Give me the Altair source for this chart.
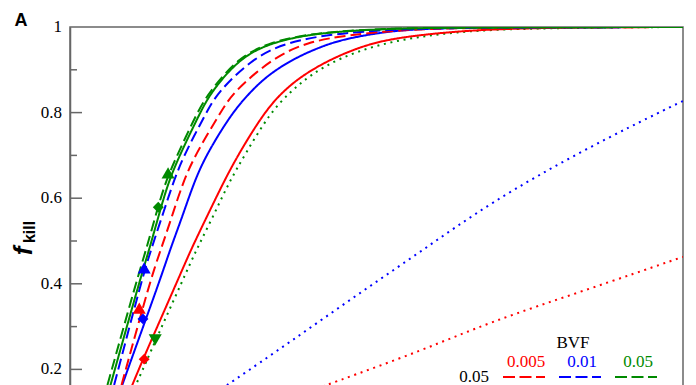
import altair as alt
import pandas as pd

# ---- curve data (x in arbitrary dose units, y = f_kill) ----
curves = {
    "gdash": {
        "x": [0.54, 0.62, 1.09, 1.24, 1.39, 1.55, 1.75, 2.07, 2.27, 2.74, 3.26, 4.03, 5.38, 7.01, 10.0],
        "y": [0.128, 0.168, 0.409, 0.479, 0.556, 0.636, 0.701, 0.799, 0.848, 0.928, 0.965, 0.988, 0.998, 0.9993, 1.0],
    },
    "gsolid": {
        "x": [0.59, 0.67, 1.14, 1.29, 1.44, 1.60, 1.79, 2.12, 2.30, 2.77, 3.30, 4.08, 5.46, 7.18, 10.0],
        "y": [0.128, 0.168, 0.409, 0.479, 0.556, 0.636, 0.701, 0.799, 0.848, 0.928, 0.965, 0.988, 0.998, 0.9993, 1.0],
    },
    "bdash": {
        "x": [0.65, 0.73, 1.17, 1.32, 1.50, 1.68, 1.86, 2.22, 2.41, 2.99, 3.54, 4.36, 5.71, 7.99, 10.0],
        "y": [0.128, 0.168, 0.409, 0.479, 0.556, 0.636, 0.701, 0.799, 0.848, 0.928, 0.965, 0.986, 0.998, 0.9995, 1.0],
    },
    "rdash": {
        "x": [0.77, 0.85, 1.31, 1.48, 1.66, 1.84, 2.04, 2.45, 2.66, 3.31, 3.87, 4.52, 5.38, 6.36, 8.65, 10.0],
        "y": [0.128, 0.168, 0.409, 0.479, 0.556, 0.636, 0.701, 0.799, 0.848, 0.928, 0.965, 0.981, 0.993, 0.998, 0.9995, 1.0],
    },
    "bsolid": {
        "x": [0.77, 0.86, 1.47, 1.63, 1.83, 2.02, 2.22, 2.64, 2.94, 3.23, 3.67, 4.16, 4.54, 5.30, 6.20, 7.50, 10.0],
        "y": [0.128, 0.168, 0.409, 0.479, 0.556, 0.636, 0.701, 0.799, 0.848, 0.888, 0.928, 0.958, 0.974, 0.993, 0.998, 0.9993, 1.0],
    },
    "rsolid": {
        "x": [0.91, 1.03, 1.19, 1.76, 1.97, 2.23, 2.50, 2.74, 3.16, 3.46, 3.80, 4.29, 4.94, 5.66, 6.57, 7.67, 8.97, 10.0],
        "y": [0.128, 0.168, 0.224, 0.409, 0.479, 0.556, 0.636, 0.701, 0.799, 0.848, 0.888, 0.928, 0.965, 0.981, 0.993, 0.998, 0.9995, 1.0],
    },
    "gdot": {
        "x": [0.96, 1.09, 1.40, 1.84, 2.06, 2.33, 2.59, 2.85, 3.26, 3.59, 3.92, 4.40, 5.01, 5.66, 6.31, 7.01, 8.65, 10.0],
        "y": [0.128, 0.168, 0.269, 0.409, 0.479, 0.556, 0.636, 0.701, 0.799, 0.848, 0.888, 0.928, 0.958, 0.977, 0.988, 0.995, 0.999, 1.0],
    },
    "bdot": {
        "x": [2.20, 2.61, 3.59, 4.68, 5.76, 6.85, 8.37, 9.92, 10.0],
        "y": [0.128, 0.168, 0.264, 0.374, 0.479, 0.589, 0.713, 0.822, 0.827],
    },
    "rdot": {
        "x": [3.51, 4.27, 5.76, 6.85, 8.43, 10.0],
        "y": [0.128, 0.168, 0.245, 0.311, 0.386, 0.463],
    },
}

RED, BLUE, GREEN = "#ff0000", "#0000ff", "#008a00"
SOLID, DASH, DOT = [1, 0], [11, 5], [2, 4.7]
styles = {
    "rdot": (RED, DOT), "bdot": (BLUE, DOT), "gdot": (GREEN, DOT),
    "rsolid": (RED, SOLID), "bsolid": (BLUE, SOLID), "gsolid": (GREEN, SOLID),
    "rdash": (RED, DASH), "bdash": (BLUE, DASH), "gdash": (GREEN, DASH),
}

# ---- markers ----
marker_x = [1.60, 1.44, 1.21, 1.13, 1.19, 1.39, 1.21]
marker_y = [0.659, 0.579, 0.437, 0.343, 0.318, 0.269, 0.224]
marker_shape = ["triangle-up", "diamond", "triangle-up", "triangle-up", "diamond", "triangle-down", "diamond"]
marker_color = [GREEN, GREEN, BLUE, RED, BLUE, GREEN, RED]

# ---- axis ticks ----
major_ticks = [0.2, 0.4, 0.6, 0.8]
minor_ticks = [0.1, 0.3, 0.5, 0.7, 0.9]
tick_values = [0.2, 0.4, 0.6, 0.8, 1.0]
tick_texts = ["0.2", "0.4", "0.6", "0.8", "1"]

# ---- legend ----
bvf_labels = ["0.005", "0.01", "0.05"]
bvf_colors = [RED, BLUE, GREEN]
row_label = "0.05"

W, H = 613, 428
xscale = alt.Scale(domain=[0, 10], nice=False)
yscale = alt.Scale(domain=[0, 1], nice=False)
SERIF = "Liberation Serif"
SANS = "Liberation Sans"

def X():
    return alt.X("x:Q", scale=xscale, axis=None)

def Y():
    return alt.Y("y:Q", scale=yscale, title=None,
                 axis=alt.Axis(values=tick_values, labels=False, ticks=False, grid=False,
                               domainColor="#666666", domainWidth=1.5))

layers = []
for name in ["rdot", "bdot", "gdot", "rsolid", "bsolid", "rdash", "bdash", "gsolid", "gdash"]:
    c = curves[name]
    col, dash = styles[name]
    df = pd.DataFrame({"x": c["x"], "y": c["y"]})
    layers.append(
        alt.Chart(df).mark_line(color=col, strokeDash=dash, strokeWidth=2, clip=True, interpolate="basis")
        .encode(x=X(), y=Y())
    )

for mx, my, ms, mc in zip(marker_x, marker_y, marker_shape, marker_color):
    size = 170 if ms.startswith("triangle") else 120
    layers.append(
        alt.Chart(pd.DataFrame({"x": [mx], "y": [my]}))
        .mark_point(shape=ms, color=mc, filled=True, opacity=1, size=size)
        .encode(x=X(), y=Y())
    )

# inner ticks
layers.append(
    alt.Chart(pd.DataFrame({"y": major_ticks})).mark_rule(color="#666666", strokeWidth=1.5)
    .encode(y=Y(), x=alt.value(0), x2=alt.value(12))
)
layers.append(
    alt.Chart(pd.DataFrame({"y": minor_ticks})).mark_rule(color="#666666", strokeWidth=1.5)
    .encode(y=Y(), x=alt.value(0), x2=alt.value(7))
)
# tick labels
layers.append(
    alt.Chart(pd.DataFrame({"y": tick_values, "lab": tick_texts}))
    .mark_text(font=SERIF, fontSize=17, align="right", baseline="middle", color="black")
    .encode(y=Y(), x=alt.value(-8), text="lab:N")
)

def txt(t, x, y, **kw):
    return alt.Chart(pd.DataFrame({"t": [t]})).mark_text(**kw).encode(
        x=alt.value(x), y=alt.value(y), text="t:N")

# panel label and y title
layers.append(txt("A", -49, -6, font=SANS, fontSize=18, fontWeight="bold",
                  align="center", baseline="middle", color="black"))
layers.append(txt("f", -46, 224, font=SANS, fontSize=26, fontWeight="bold",
                  fontStyle="italic", angle=270, align="center", baseline="middle", color="black"))
layers.append(txt("kill", -40, 205, font=SANS, fontSize=16, fontWeight="bold",
                  angle=270, align="center", baseline="middle", color="black"))

# legend
layers.append(txt("BVF", 503, 316, font=SERIF, fontSize=17, align="center", baseline="middle", color="black"))
layers.append(txt(row_label, 404, 350, font=SERIF, fontSize=17, align="center", baseline="middle", color="black"))
for i, (lab, col) in enumerate(zip(bvf_labels, bvf_colors)):
    cx = 456 + i * 56
    layers.append(txt(lab, cx, 335, font=SERIF, fontSize=17, align="center", baseline="middle", color=col))
    layers.append(
        alt.Chart(pd.DataFrame({"t": [lab]})).mark_rule(color=col, strokeWidth=2, strokeDash=[12, 4.5])
        .encode(x=alt.value(cx - 23), x2=alt.value(cx + 19), y=alt.value(350))
    )

chart = alt.layer(*layers).properties(
    width=W, height=H,
    autosize=alt.AutoSizeParams(type="none"),
    padding={"left": 62, "top": 19, "right": 5, "bottom": 5},
).configure_view(
    stroke="#666666", strokeWidth=1.5
)

chart.save("out.html", embed_options={"renderer": "svg", "actions": False})
